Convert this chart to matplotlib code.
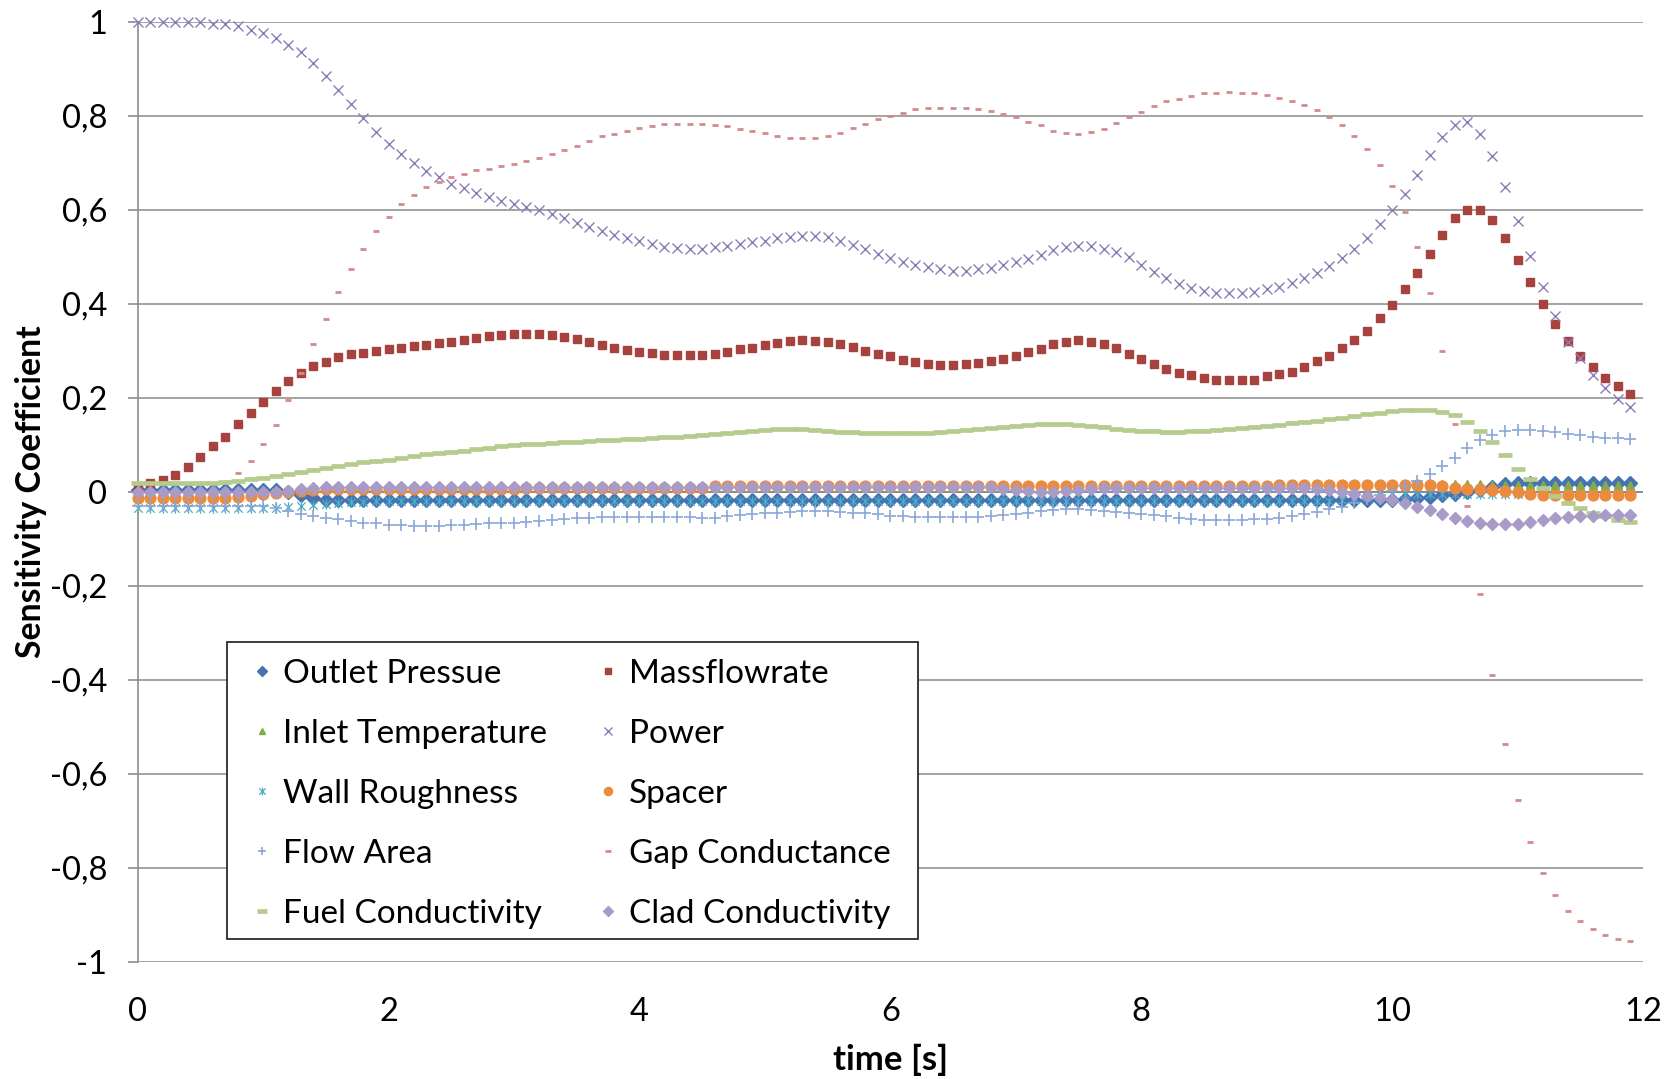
import numpy as np
import matplotlib
matplotlib.use("Agg")
import matplotlib.pyplot as plt
from matplotlib.path import Path
from matplotlib.patches import Rectangle

plt.rcParams['font.family'] = ['Lato', 'DejaVu Sans']

# ---------------- data ----------------
time_s = np.round(np.arange(120) * 0.1, 1)   # sample grid, 0.0 ... 11.9 s

outlet_pressure = (
    [0.004] * 12 + [0.000, -0.006, -0.012, -0.016] + [-0.018] * 83 +
    [-0.017, -0.016, -0.014, -0.012, -0.010, -0.007, -0.004, 0.000, 0.005,
     0.011, 0.016] + [0.019] * 10)

massflowrate = [
    0.012, 0.020, 0.025, 0.037, 0.054, 0.074, 0.097, 0.118, 0.144, 0.169,
    0.192, 0.215, 0.236, 0.253, 0.268, 0.277, 0.287, 0.293, 0.296, 0.301,
    0.305, 0.307, 0.310, 0.312, 0.316, 0.319, 0.324, 0.328, 0.331, 0.334,
    0.336, 0.336, 0.336, 0.334, 0.330, 0.325, 0.319, 0.313, 0.307, 0.303,
    0.298, 0.295, 0.291, 0.291, 0.291, 0.291, 0.294, 0.298, 0.304, 0.307,
    0.312, 0.317, 0.321, 0.323, 0.321, 0.319, 0.314, 0.309, 0.299, 0.293,
    0.289, 0.280, 0.277, 0.273, 0.271, 0.271, 0.272, 0.275, 0.278, 0.284,
    0.289, 0.298, 0.305, 0.314, 0.319, 0.323, 0.319, 0.314, 0.307, 0.294,
    0.284, 0.272, 0.262, 0.253, 0.248, 0.242, 0.239, 0.239, 0.239, 0.239,
    0.246, 0.252, 0.256, 0.267, 0.278, 0.290, 0.307, 0.324, 0.343, 0.370,
    0.398, 0.432, 0.467, 0.507, 0.547, 0.582, 0.600, 0.600, 0.578, 0.541,
    0.493, 0.446, 0.400, 0.358, 0.322, 0.290, 0.265, 0.242, 0.225, 0.208]

inlet_temperature = (
    [0.002] * 11 +
    [0.003, 0.004, 0.005, 0.006, 0.007, 0.008, 0.008, 0.009, 0.009, 0.010] +
    [0.010] * 65 +
    [0.011, 0.012, 0.013, 0.014, 0.015, 0.016, 0.017, 0.017, 0.018, 0.018] +
    [0.018] * 12 + [0.014] * 12)

power = [
    1.000, 1.000, 1.000, 1.000, 1.000, 1.000, 0.996, 0.995, 0.991, 0.984,
    0.977, 0.965, 0.952, 0.936, 0.913, 0.885, 0.856, 0.826, 0.796, 0.767,
    0.741, 0.720, 0.700, 0.684, 0.670, 0.656, 0.647, 0.636, 0.627, 0.620,
    0.613, 0.606, 0.599, 0.592, 0.583, 0.572, 0.563, 0.556, 0.547, 0.540,
    0.533, 0.527, 0.522, 0.520, 0.518, 0.518, 0.521, 0.523, 0.527, 0.531,
    0.535, 0.540, 0.543, 0.545, 0.545, 0.542, 0.533, 0.526, 0.516, 0.506,
    0.497, 0.489, 0.483, 0.478, 0.474, 0.471, 0.471, 0.474, 0.477, 0.483,
    0.489, 0.496, 0.504, 0.514, 0.521, 0.523, 0.523, 0.518, 0.510, 0.499,
    0.483, 0.468, 0.455, 0.443, 0.434, 0.427, 0.424, 0.423, 0.424, 0.426,
    0.431, 0.436, 0.444, 0.455, 0.465, 0.480, 0.498, 0.517, 0.541, 0.570,
    0.601, 0.635, 0.675, 0.717, 0.755, 0.780, 0.787, 0.762, 0.714, 0.650,
    0.576, 0.502, 0.436, 0.374, 0.320, 0.286, 0.250, 0.221, 0.198, 0.181]

wall_roughness = (
    [-0.034] * 12 +
    [-0.032, -0.030, -0.028, -0.026, -0.024, -0.022, -0.021, -0.020] +
    [-0.019] * 76 +
    [-0.016, -0.013, -0.010, -0.007, -0.005] + [-0.004] * 19)

spacer = (
    [-0.012] * 8 +
    [-0.010, -0.008, -0.005, -0.002, 0.001, 0.003, 0.005, 0.006] +
    [0.007] * 15 + [0.009] * 15 + [0.012] * 45 + [0.014] * 13 +
    [0.012, 0.009, 0.007, 0.006, 0.005, 0.002, 0.000, -0.004, -0.006] +
    [-0.007] * 7)

flow_area = (
    [-0.030] * 11 +
    [-0.034, -0.040, -0.047, -0.052, -0.055, -0.058, -0.061, -0.065, -0.067,
     -0.070, -0.071, -0.072, -0.072, -0.072, -0.071, -0.070, -0.068, -0.067,
     -0.066, -0.065, -0.063, -0.061, -0.059, -0.057, -0.056, -0.055] +
    [-0.054] * 8 +
    [-0.055, -0.055, -0.052, -0.049, -0.047, -0.045, -0.044, -0.042, -0.040,
     -0.040, -0.040, -0.042, -0.044, -0.045, -0.047, -0.051, -0.052, -0.054,
     -0.054, -0.054, -0.054, -0.054, -0.054, -0.052, -0.049, -0.047, -0.044,
     -0.040, -0.038, -0.037, -0.037, -0.038, -0.040, -0.042, -0.045, -0.047,
     -0.049, -0.052, -0.056, -0.058, -0.059, -0.059, -0.059, -0.059, -0.058,
     -0.058, -0.056, -0.052] +
    [-0.047, -0.042, -0.037, -0.031, -0.024, -0.014, -0.006, 0.003, 0.013,
     0.024, 0.038, 0.056, 0.073, 0.094, 0.111, 0.122, 0.129, 0.132, 0.132,
     0.129, 0.127, 0.124, 0.122, 0.118, 0.115, 0.115, 0.113])

gap_conductance = [
    0.000, 0.000, 0.000, 0.001, 0.002, 0.004, 0.008, 0.022, 0.040, 0.065,
    0.102, 0.143, 0.195, 0.254, 0.314, 0.369, 0.426, 0.474, 0.518, 0.556,
    0.586, 0.612, 0.632, 0.648, 0.660, 0.671, 0.677, 0.685, 0.688, 0.693,
    0.698, 0.705, 0.711, 0.719, 0.728, 0.737, 0.747, 0.757, 0.762, 0.769,
    0.774, 0.779, 0.782, 0.784, 0.784, 0.784, 0.780, 0.778, 0.773, 0.769,
    0.764, 0.758, 0.753, 0.753, 0.753, 0.758, 0.764, 0.774, 0.784, 0.794,
    0.801, 0.807, 0.814, 0.816, 0.818, 0.818, 0.816, 0.814, 0.810, 0.805,
    0.797, 0.788, 0.780, 0.769, 0.764, 0.762, 0.767, 0.772, 0.786, 0.798,
    0.809, 0.821, 0.831, 0.837, 0.842, 0.848, 0.848, 0.851, 0.848, 0.848,
    0.844, 0.838, 0.831, 0.823, 0.812, 0.798, 0.781, 0.758, 0.730, 0.696,
    0.652, 0.595, 0.522, 0.423, 0.300, 0.144, -0.030, -0.216, -0.390, -0.537,
    -0.655, -0.745, -0.810, -0.857, -0.891, -0.913, -0.930, -0.942, -0.950, -0.956]

fuel_conductivity = [
    0.019, 0.019, 0.019, 0.019, 0.019, 0.020, 0.020,
    0.022, 0.024, 0.027, 0.030, 0.034, 0.038, 0.043,
    0.047, 0.052, 0.056, 0.060, 0.063, 0.065, 0.068,
    0.072, 0.076, 0.080, 0.083, 0.086, 0.088, 0.091,
    0.094, 0.097, 0.100, 0.102, 0.103, 0.105, 0.106,
    0.107, 0.109, 0.110, 0.111, 0.112, 0.113, 0.114,
    0.116, 0.117, 0.119, 0.121, 0.124, 0.126, 0.128,
    0.130, 0.132, 0.134, 0.134, 0.133, 0.131, 0.130,
    0.128, 0.127, 0.126, 0.126, 0.126, 0.126, 0.126,
    0.126, 0.127, 0.129, 0.131, 0.133, 0.136, 0.138,
    0.140, 0.142, 0.144, 0.145, 0.145, 0.143, 0.141,
    0.138, 0.134, 0.131, 0.130, 0.129, 0.128, 0.128,
    0.129, 0.130, 0.131, 0.134, 0.136, 0.139, 0.141,
    0.143, 0.146, 0.149, 0.151, 0.155, 0.158, 0.162,
    0.165, 0.169, 0.173, 0.175, 0.175, 0.174, 0.170,
    0.164, 0.148, 0.130, 0.106, 0.078, 0.050, 0.028,
    0.009, -0.008, -0.024, -0.033, -0.044, -0.052, -0.059, -0.064]

clad_conductivity = (
    [0.000] * 12 + [0.003, 0.006, 0.008] + [0.010] * 54 +
    [0.007, 0.004, 0.002, 0.001, 0.001, 0.002, 0.004, 0.006, 0.008] +
    [0.009] * 16 +
    [0.007, 0.004, 0.001, -0.004, -0.009, -0.013, -0.018, -0.023, -0.032,
     -0.038, -0.046, -0.055, -0.062, -0.065, -0.068, -0.068, -0.068, -0.064,
     -0.059, -0.055, -0.053, -0.050, -0.050, -0.048, -0.048, -0.048])

y_ticks = [-1, -0.8, -0.6, -0.4, -0.2, 0, 0.2, 0.4, 0.6, 0.8, 1]
y_tick_labels = ["-1", "-0,8", "-0,6", "-0,4", "-0,2", "0", "0,2", "0,4", "0,6", "0,8", "1"]
x_ticks = [0, 2, 4, 6, 8, 10, 12]

# ---------------- figure ----------------
W, H = 1673, 1079
fig = plt.figure(figsize=(W / 100, H / 100), dpi=100)
x0, x1 = 137.6 / W, 1643 / W
y_top, y_bot = 22 / H, 962 / H
ax = fig.add_axes([x0, 1 - y_bot, x1 - x0, y_bot - y_top])
ax.set_xlim(0, 12)
ax.set_ylim(-1, 1)

# star marker (x with vertical bar)
star_path = Path([(-0.5, -0.5), (0.5, 0.5), (-0.5, 0.5), (0.5, -0.5), (0, -0.62), (0, 0.62)],
                 [Path.MOVETO, Path.LINETO, Path.MOVETO, Path.LINETO, Path.MOVETO, Path.LINETO])

series = [
    ("Outlet Pressue", outlet_pressure, dict(marker='D', ms=7.3, color='#4674B2', mec='#4674B2')),
    ("Massflowrate", massflowrate, dict(marker='s', ms=6.4, color='#A8423F', mec='#A8423F')),
    ("Inlet Temperature", inlet_temperature, dict(marker='^', ms=5.5, color='#84AB4B', mec='#84AB4B')),
    ("Power", power, dict(marker='x', ms=7.4, mew=1.0, color='#8E7CB6')),
    ("Wall Roughness", wall_roughness, dict(marker=star_path, ms=7.5, mew=0.9, color='#4BACC6', mfc='none')),
    ("Spacer", spacer, dict(marker='o', ms=7.8, color='#EB8B3E', mec='#EB8B3E')),
    ("Flow Area", flow_area, dict(marker='+', ms=8.5, mew=1.2, color='#8AA6D6')),
    ("Gap Conductance", gap_conductance, dict(marker='_', ms=5.0, mew=2.0, color='#D48A8A')),
    ("Fuel Conductivity", fuel_conductivity, dict(marker='_', ms=9.6, mew=3.4, color='#B5CC8E')),
    ("Clad Conductivity", clad_conductivity, dict(marker='D', ms=6.2, color='#A89BC8', mec='#A89BC8')),
]

handles = {}
for i, (name, vals, kw) in enumerate(series):
    assert len(vals) == len(time_s), (name, len(vals))
    h, = ax.plot(time_s, vals, linestyle='none', label=name, zorder=3 + i * 0.1,
                 clip_on=False, **kw)
    handles[name] = h

# grid / axes
for yv in y_ticks:
    ax.axhline(yv, color='#A3A3A3', lw=1.4, zorder=1)
ax.axhline(0, color='#8C8C8C', lw=1.4, zorder=1.5)
for s in ['top', 'right', 'bottom']:
    ax.spines[s].set_visible(False)
ax.spines['left'].set_color('#8C8C8C')
ax.spines['left'].set_linewidth(1.2)
ax.spines['left'].set_zorder(2)

ax.set_yticks(y_ticks)
ax.set_yticklabels(y_tick_labels)
ax.set_xticks(x_ticks)
ax.set_xticklabels([str(v) for v in x_ticks])
ax.tick_params(axis='y', direction='out', length=7, width=1.2, color='#8C8C8C',
               labelsize=23.5, pad=15)
ax.tick_params(axis='x', length=0, labelsize=23.5, pad=25)

ax.set_xlabel("time [s]", fontsize=25, fontweight='bold', labelpad=12)
ax.set_ylabel("Sensitivity Coefficient", fontsize=24.3, fontweight='bold', labelpad=2)

# legend box (drawn as its own frame)
bx0, by0, bx1, by1 = 227, 642, 918, 939
fig.patches.append(Rectangle((bx0 / W, 1 - by1 / H), (bx1 - bx0) / W, (by1 - by0) / H,
                             transform=fig.transFigure, facecolor='white',
                             edgecolor='#1a1a1a', linewidth=1.2, zorder=4))

order = ["Outlet Pressue", "Inlet Temperature", "Wall Roughness", "Flow Area", "Fuel Conductivity",
         "Massflowrate", "Power", "Spacer", "Gap Conductance", "Clad Conductivity"]
leg = fig.legend([handles[n] for n in order], order, loc='upper left',
                 bbox_to_anchor=((bx0 + 3) / W, 1 - by0 / H), bbox_transform=fig.transFigure,
                 ncol=2, fontsize=24, frameon=False, borderaxespad=0,
                 numpoints=1, handlelength=0.9, handletextpad=0.19, columnspacing=1.38,
                 labelspacing=0.90, borderpad=0.5, markerscale=0.75)
leg.set_zorder(5)

fig.savefig("out.png", dpi=100, facecolor='white')
